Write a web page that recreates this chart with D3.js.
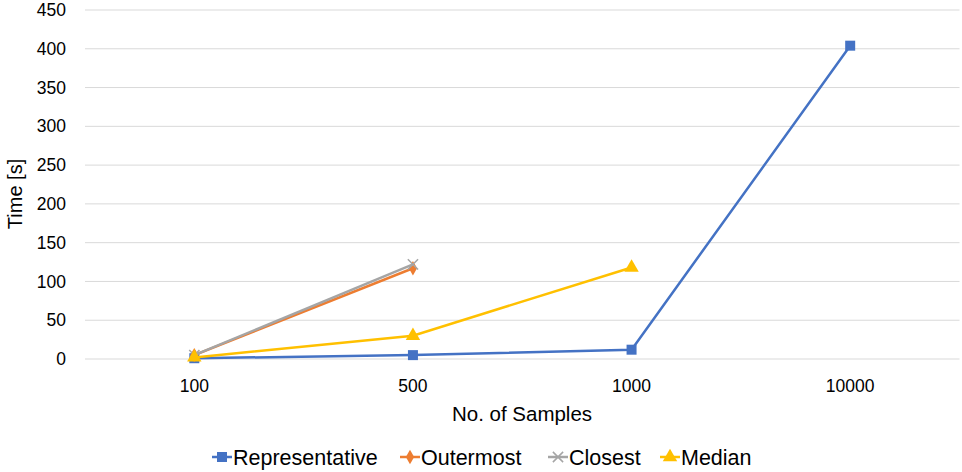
<!DOCTYPE html>
<html>
<head>
<meta charset="utf-8">
<script src="https://cdn.jsdelivr.net/npm/d3@7"></script>
<style>
  body { margin: 0; background: #fff; }
  svg { font-family: "Liberation Sans", Arial, sans-serif; }
</style>
</head>
<body>
<div id="chart"></div>
<script>
const categories = ["100", "500", "1000", "10000"];
const yTicks = [0, 50, 100, 150, 200, 250, 300, 350, 400, 450];

const representative = [1, 5, 12, 404];
const outermost = [5, 117];
const closest = [5, 122];
const median = [2, 30, 118];

const series = [
    { name: "Representative", values: representative, color: "#4472c4", symbol: "square" },
    { name: "Outermost", values: outermost, color: "#ed7d31", symbol: "diamond" },
    { name: "Closest", values: closest, color: "#a5a5a5", symbol: "cross" },
    { name: "Median", values: median, color: "#ffc000", symbol: "triangle" }
];

const width = 962, height = 472;
const margin = { top: 10, right: 2.5, bottom: 113, left: 85 };
const innerW = width - margin.left - margin.right;
const innerH = height - margin.top - margin.bottom;

const svg = d3.select("#chart").append("svg")
    .attr("width", width)
    .attr("height", height);

const g = svg.append("g")
    .attr("transform", `translate(${margin.left},${margin.top})`);

const x = d3.scaleBand().domain(categories).range([0, innerW]);
const y = d3.scaleLinear().domain([0, 450]).range([innerH, 0]);

// gridlines
g.selectAll(".grid")
    .data(yTicks)
    .enter().append("line")
    .attr("x1", 0)
    .attr("x2", innerW)
    .attr("y1", d => y(d))
    .attr("y2", d => y(d))
    .attr("stroke", "#d9d9d9")
    .attr("stroke-width", 1);

// y tick labels
g.selectAll(".ylab")
    .data(yTicks)
    .enter().append("text")
    .attr("x", -19)
    .attr("y", d => y(d))
    .attr("dy", "0.35em")
    .attr("text-anchor", "end")
    .style("font-size", "17.5px")
    .style("fill", "#000")
    .text(d => d);

// x tick labels
g.selectAll(".xlab")
    .data(categories)
    .enter().append("text")
    .attr("x", d => x(d) + x.bandwidth() / 2)
    .attr("y", innerH + 33)
    .attr("text-anchor", "middle")
    .style("font-size", "17.5px")
    .style("fill", "#000")
    .text(d => d);

// axis titles
svg.append("text")
    .attr("x", 522)
    .attr("y", 421)
    .attr("text-anchor", "middle")
    .style("font-size", "20.5px")
    .text("No. of Samples");

svg.append("text")
    .attr("transform", `translate(22,194) rotate(-90)`)
    .attr("text-anchor", "middle")
    .style("font-size", "20px")
    .text("Time [s]");

const symbolType = {
    square: d3.symbolSquare,
    diamond: d3.symbolDiamond,
    cross: d3.symbolTimes,
    triangle: d3.symbolTriangle
};
const symbolSize = { square: 100, diamond: 60, cross: 70, triangle: 90 };

function drawMarker(sel, s, cx, cy) {
    const path = d3.symbol().type(symbolType[s.symbol]).size(symbolSize[s.symbol])();
    const m = sel.append("path")
        .attr("d", path)
        .attr("transform", `translate(${cx},${cy})`);
    if (s.symbol === "cross") {
        m.attr("fill", "none").attr("stroke", s.color).attr("stroke-width", 1.5);
    } else {
        m.attr("fill", s.color);
    }
}

const line = d3.line()
    .x((d, i) => x(categories[i]) + x.bandwidth() / 2)
    .y(d => y(d));

series.forEach(s => {
    g.append("path")
        .datum(s.values)
        .attr("fill", "none")
        .attr("stroke", s.color)
        .attr("stroke-width", 2.5)
        .attr("d", line);
    s.values.forEach((v, i) => {
        drawMarker(g, s, x(categories[i]) + x.bandwidth() / 2, y(v));
    });
});

// legend
const legendX = [212, 400, 548, 660];
const legend = svg.append("g");
series.forEach((s, i) => {
    const lg = legend.append("g").attr("transform", `translate(${legendX[i]},457)`);
    lg.append("line")
        .attr("x1", 0).attr("x2", 20)
        .attr("stroke", s.color)
        .attr("stroke-width", 2.5);
    drawMarker(lg, s, 10, 0);
    lg.append("text")
        .attr("x", 21)
        .attr("dy", "0.36em")
        .style("font-size", "21.5px")
        .text(s.name);
});
</script>
</body>
</html>
